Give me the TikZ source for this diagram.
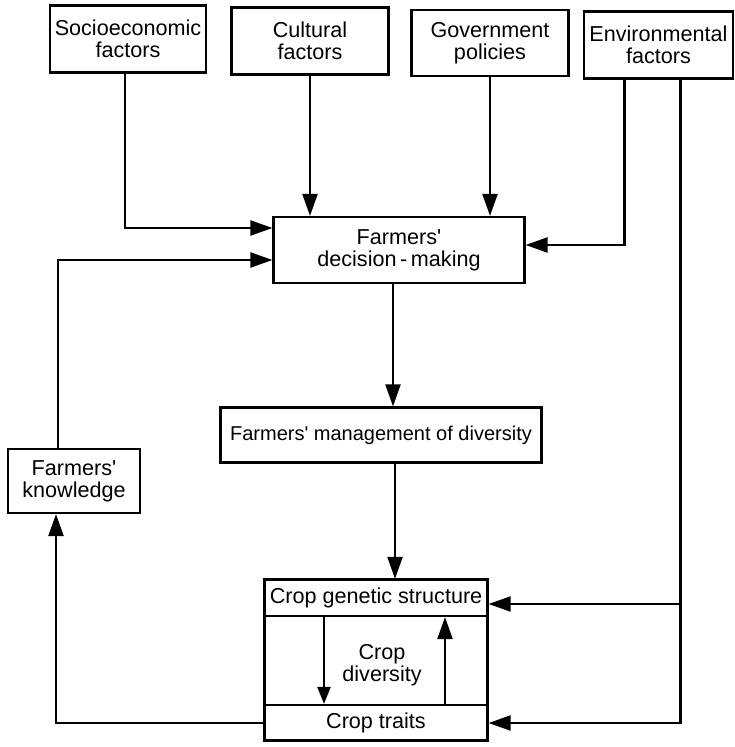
\documentclass[tikz,border=0pt]{standalone}
\usepackage{fontspec}
\setmainfont{Liberation Sans}
\usetikzlibrary{arrows.meta}

\begin{document}
\begin{tikzpicture}[x=0.5pt, y=-0.5pt, line width=1.1pt,
  >={Triangle[length=11pt,width=7.5pt]},
  small/.style={>={Triangle[length=8.5pt,width=6.5pt]}},
  box/.style={draw, rectangle, align=center, inner sep=0pt,
    font=\fontsize{10.8}{11}\selectfont}]

\useasboundingbox (0,0) rectangle (734,747);

\node[box, minimum width=78pt, minimum height=33.5pt] (socio) at (128,39) {Socioeconomic\\factors};
\node[box, minimum width=78.5pt, minimum height=33.5pt] (cultural) at (310,41) {Cultural\\factors};
\node[box, minimum width=78.5pt, minimum height=33pt] (govt) at (490,43) {Government\\policies};
\node[box, minimum width=74.5pt, minimum height=33.5pt] (env) at (658.5,45) {Environmental\\factors};

\node[box, minimum width=125.5pt, minimum height=33pt] (decision) at (399,250) {Farmers\textquotesingle\\decision\,-\,making};
\node[box, minimum width=160.5pt, minimum height=27.5pt, font=\fontsize{10}{11}\selectfont] (management) at (381,435) {Farmers\textquotesingle{} management of diversity};
\node[box, minimum width=66pt, minimum height=32pt] (knowledge) at (74,481) {Farmers\textquotesingle\\knowledge};

\node[draw, rectangle, minimum width=111.5pt, minimum height=80.5pt] (cropbox) at (376,660) {};
\node[box, minimum width=111.5pt, minimum height=18pt] (genetic) at (376,598) {Crop genetic structure};
\node[box, minimum width=111.5pt, minimum height=18pt] (traits) at (376,723) {Crop traits};
\node[align=center, font=\fontsize{10.8}{11}\selectfont] (divlabel) at (382,665) {Crop\\diversity};

% influences on decisions
\draw[->] ([xshift=-1.5pt]socio.south) |- ([yshift=11pt]decision.west);
\draw[->] (cultural.south) -- (cultural.south |- decision.north);
\draw[->] (govt.south) -- (govt.south |- decision.north);
\draw[->] ([xshift=-17pt]env.south) |- ([yshift=2.5pt]decision.east);
\draw[->] ([xshift=-8pt]knowledge.north) |- ([yshift=-5pt]decision.west);

% management chain
\draw[->] ([xshift=-3pt]decision.south) -- ([xshift=-3pt]decision.south |- management.north);
\draw[->] ([xshift=7pt]management.south) -- ([xshift=7pt]management.south |- genetic.north);

% inside crop diversity
\draw[->, small] ([xshift=-26pt]genetic.south) -- ([xshift=-26pt]genetic.south |- traits.north);
\draw[->] ([xshift=34.5pt]traits.north) -- ([xshift=34.5pt]traits.north |- genetic.south);

% environment on crops
\draw[->] ([xshift=11pt]env.south) |- ([yshift=-3pt]genetic.east);
\draw[->] ([xshift=11pt]env.south) |- (traits.east);

% feedback to knowledge
\draw[->] (traits.west) -| ([xshift=-9pt]knowledge.south);

\end{tikzpicture}
\end{document}
